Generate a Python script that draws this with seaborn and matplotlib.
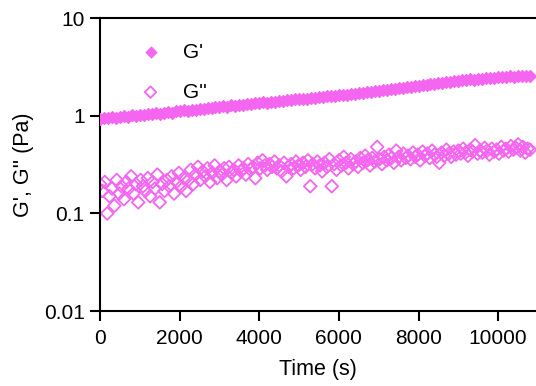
import numpy as np
import pandas as pd
import matplotlib
matplotlib.use("Agg")
import matplotlib.pyplot as plt
import seaborn as sns
from matplotlib.ticker import FixedLocator, FixedFormatter, NullLocator

# ---- data ----
time_gp = np.arange(0, 10801, 100)  # sampling grid for G' (s)
g_prime = [
    0.92, 0.95, 0.94, 0.97, 0.96, 0.98, 1.00, 0.97, 1.01, 1.00,
    1.03, 1.01, 1.05, 1.04, 1.07, 1.05, 1.08, 1.10, 1.07, 1.11,
    1.12, 1.14, 1.11, 1.16, 1.15, 1.18, 1.17, 1.20, 1.19, 1.22,
    1.23, 1.25, 1.24, 1.28, 1.26, 1.30, 1.29, 1.32, 1.31, 1.35,
    1.34, 1.37, 1.36, 1.40, 1.39, 1.42, 1.41, 1.45, 1.44, 1.47,
    1.48, 1.50, 1.49, 1.53, 1.52, 1.56, 1.55, 1.59, 1.58, 1.61,
    1.62, 1.65, 1.64, 1.68, 1.67, 1.71, 1.70, 1.75, 1.74, 1.78,
    1.80, 1.84, 1.83, 1.88, 1.87, 1.92, 1.91, 1.97, 1.96, 2.02,
    2.04, 2.09, 2.07, 2.13, 2.12, 2.18, 2.16, 2.22, 2.21, 2.27,
    2.29, 2.33, 2.31, 2.37, 2.35, 2.40, 2.38, 2.43, 2.42, 2.46,
    2.47, 2.50, 2.49, 2.53, 2.51, 2.55, 2.53, 2.57, 2.58,
]
time_gpp = np.arange(0, 10801, 60)  # sampling grid for G'' (s)
g_double = [
    0.20, 0.17, 0.21, 0.10, 0.15, 0.18, 0.12, 0.22, 0.16, 0.19,
    0.14, 0.21, 0.18, 0.24, 0.16, 0.20, 0.13, 0.22, 0.19, 0.17,
    0.23, 0.15, 0.21, 0.18, 0.25, 0.13, 0.20, 0.17, 0.22, 0.19,
    0.24, 0.16, 0.21, 0.26, 0.19, 0.23, 0.17, 0.22, 0.28, 0.20,
    0.25, 0.30, 0.22, 0.27, 0.24, 0.29, 0.21, 0.26, 0.31, 0.23,
    0.27, 0.25, 0.29, 0.22, 0.30, 0.26, 0.28, 0.24, 0.31, 0.27,
    0.29, 0.25, 0.32, 0.28, 0.30, 0.23, 0.33, 0.29, 0.35, 0.31,
    0.28, 0.32, 0.30, 0.34, 0.29, 0.31, 0.27, 0.33, 0.24, 0.30,
    0.32, 0.29, 0.34, 0.31, 0.28, 0.33, 0.30, 0.35, 0.19, 0.32,
    0.29, 0.34, 0.31, 0.27, 0.33, 0.30, 0.36, 0.19, 0.32, 0.28,
    0.35, 0.31, 0.38, 0.33, 0.29, 0.36, 0.32, 0.34, 0.30, 0.37,
    0.33, 0.39, 0.35, 0.31, 0.37, 0.34, 0.48, 0.36, 0.32, 0.38,
    0.35, 0.40, 0.37, 0.33, 0.44, 0.38, 0.35, 0.41, 0.37, 0.39,
    0.36, 0.42, 0.38, 0.40, 0.35, 0.43, 0.39, 0.41, 0.37, 0.44,
    0.40, 0.38, 0.33, 0.42, 0.39, 0.45, 0.41, 0.38, 0.43, 0.40,
    0.44, 0.41, 0.46, 0.42, 0.39, 0.45, 0.43, 0.50, 0.41, 0.44,
    0.42, 0.47, 0.44, 0.40, 0.46, 0.43, 0.45, 0.41, 0.48, 0.44,
    0.46, 0.43, 0.49, 0.45, 0.47, 0.51, 0.44, 0.48, 0.42, 0.46,
    0.45,
]
y_ticks = [0.01, 0.1, 1, 10]
y_tick_labels = ["0.01", "0.1", "1", "10"]
x_ticks = [0, 2000, 4000, 6000, 8000, 10000]

df_gp = pd.DataFrame({"t": time_gp, "v": g_prime})
df_gpp = pd.DataFrame({"t": time_gpp, "v": g_double})

sns.set_theme(style="ticks")
plt.rcParams["font.family"] = ["Liberation Sans", "DejaVu Sans"]
plt.rcParams["text.color"] = "black"
plt.rcParams["axes.labelcolor"] = "black"
color = "#f466f0"

fig = plt.figure(figsize=(5.36, 3.86), dpi=100)
ax = fig.add_axes([0.1866, 0.194, 0.8134, 0.759])

sns.scatterplot(data=df_gp, x="t", y="v", ax=ax, marker="D", s=38,
                color=color, edgecolor=color, linewidth=0.8, label="G'", zorder=3)
sns.scatterplot(data=df_gpp, x="t", y="v", ax=ax, marker="D", s=42,
                facecolor="none", edgecolor=color, linewidth=1.3, label="G''", zorder=2)

ax.set_yscale("log")
ax.set_ylim(0.01, 10)
ax.set_xlim(0, 10950)
ax.yaxis.set_major_locator(FixedLocator(y_ticks))
ax.yaxis.set_major_formatter(FixedFormatter(y_tick_labels))
ax.yaxis.set_minor_locator(NullLocator())
ax.set_xticks(x_ticks)
ax.set_xticklabels([str(v) for v in x_ticks])

for side in ["left", "bottom", "top"]:
    ax.spines[side].set_linewidth(1.5)
    ax.spines[side].set_color("black")
ax.spines["right"].set_visible(False)
ax.tick_params(axis="both", which="major", length=7, width=1.5,
               labelsize=15, colors="black", direction="out")
ax.tick_params(axis="x", pad=6)
ax.tick_params(axis="y", pad=4)
ax.tick_params(top=False, right=False)

ax.set_xlabel("Time (s)", fontsize=15.5, labelpad=8)
ax.set_ylabel("G', G'' (Pa)", fontsize=15.5, labelpad=7)

leg = ax.legend(loc="upper left", bbox_to_anchor=(0.025, 0.98), frameon=False,
                fontsize=15, handletextpad=0.55, labelspacing=1.0, markerscale=0.9)

fig.savefig("out.png", dpi=100)
